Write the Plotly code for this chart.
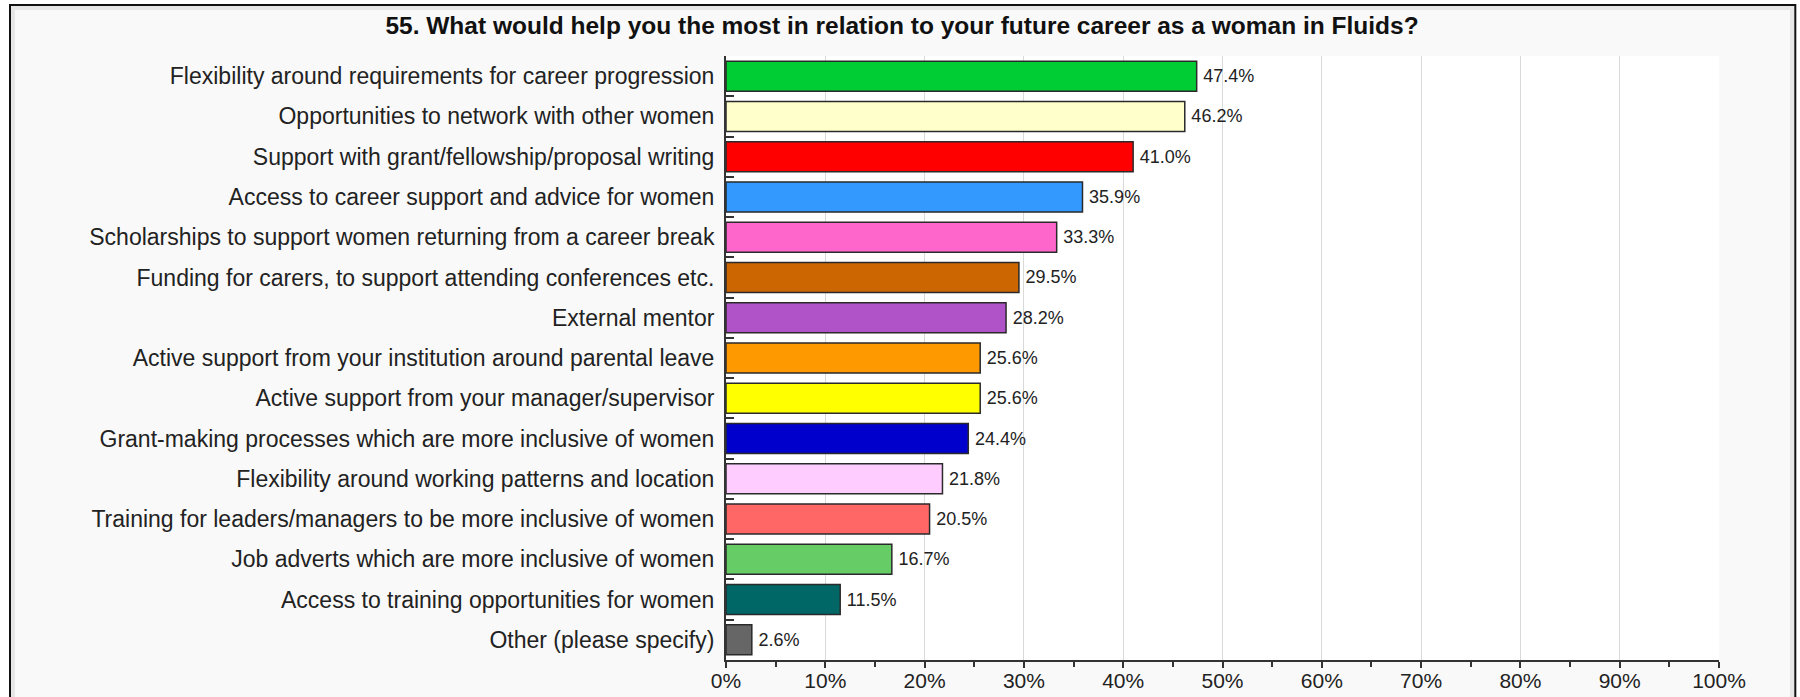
import plotly.graph_objects as go

categories = [
    "Flexibility around requirements for career progression",
    "Opportunities to network with other women",
    "Support with grant/fellowship/proposal writing",
    "Access to career support and advice for women",
    "Scholarships to support women returning from a career break",
    "Funding for carers, to support attending conferences etc.",
    "External mentor",
    "Active support from your institution around parental leave",
    "Active support from your manager/supervisor",
    "Grant-making processes which are more inclusive of women",
    "Flexibility around working patterns and location",
    "Training for leaders/managers to be more inclusive of women",
    "Job adverts which are more inclusive of women",
    "Access to training opportunities for women",
    "Other (please specify)",
]
values = [47.4, 46.2, 41.0, 35.9, 33.3, 29.5, 28.2, 25.6, 25.6, 24.4, 21.8, 20.5, 16.7, 11.5, 2.6]
colors = [
    "#00cc33", "#ffffcc", "#ff0000", "#3399ff", "#ff66cc", "#cc6600", "#b052c8",
    "#ff9900", "#ffff00", "#0000cc", "#ffccff", "#ff6666", "#66cc66", "#006666", "#666666",
]
tick_vals = list(range(0, 101, 10))
tick_text = [f"{v}%" for v in tick_vals]
title_text = "55. What would help you the most in relation to your future career as a woman in Fluids?"

W, H = 1800, 697
ML, MR, MT, MB = 726, 81, 56, 37
PW = W - ML - MR
PH = H - MT - MB

def px(x):
    return (x - ML) / PW

def py(y):
    return (H - MB - y) / PH

FONT = "Liberation Sans, Arial, sans-serif"

fig = go.Figure(go.Bar(
    x=values,
    y=categories,
    orientation="h",
    marker=dict(color=colors, line=dict(color="#2a2a2a", width=1.5)),
    text=[f"\u2009{v:.1f}%" for v in values],
    textposition="outside",
    textfont=dict(family=FONT, size=18, color="#222222"),
    cliponaxis=False,
    hoverinfo="skip",
))

shapes = [
    # white strips outside the frame
    dict(type="rect", xref="paper", yref="paper", x0=px(0), x1=px(9), y0=py(0), y1=py(H), fillcolor="white", line=dict(width=0), layer="below"),
    dict(type="rect", xref="paper", yref="paper", x0=px(0), x1=px(W), y0=py(0), y1=py(4), fillcolor="white", line=dict(width=0), layer="below"),
    dict(type="rect", xref="paper", yref="paper", x0=px(1796.5), x1=px(W), y0=py(0), y1=py(H), fillcolor="white", line=dict(width=0), layer="below"),
    # inner light gray band
    dict(type="rect", xref="paper", yref="paper", x0=px(13), x1=px(1792), y0=py(8), y1=py(H + 10), fillcolor="rgba(0,0,0,0)", line=dict(color="#e6e6e6", width=4), layer="below"),
    # plot area white
    dict(type="rect", xref="paper", yref="paper", x0=0, x1=1, y0=0, y1=1, fillcolor="white", line=dict(width=0), layer="below"),
    # black frame
    dict(type="rect", xref="paper", yref="paper", x0=px(10), x1=px(1795.3), y0=py(5), y1=py(H + 10), fillcolor="rgba(0,0,0,0)", line=dict(color="#111111", width=2), layer="above"),
]

fig.update_layout(
    width=W, height=H,
    margin=dict(l=ML, r=MR, t=MT, b=MB, autoexpand=False),
    paper_bgcolor="#f9f9f9",
    plot_bgcolor="white",
    showlegend=False,
    bargap=0.255,
    font=dict(family=FONT, color="#222222"),
    title=dict(
        text=title_text,
        xanchor="center", xref="paper",
        y=1 - 25 / H, yanchor="middle", yref="container",
        font=dict(family=FONT, size=24.5, color="#111111", weight="bold"),
    ),
    shapes=shapes,
)
fig.layout.title.x = px(902)

fig.update_xaxes(
    range=[0, 100],
    tickvals=tick_vals, ticktext=tick_text,
    showgrid=True, gridcolor="#d9d9d9", gridwidth=1,
    showline=True, linecolor="#333333", linewidth=2,
    ticks="outside", ticklen=6, tickwidth=1.5, tickcolor="#333333",
    minor=dict(dtick=5, ticks="outside", ticklen=5, tickwidth=1.5, tickcolor="#333333", showgrid=False),
    tickfont=dict(family=FONT, size=21, color="#222222"),
    ticklabelstandoff=-5,
    zeroline=False,
    fixedrange=True,
)
fig.update_yaxes(
    categoryorder="array", categoryarray=categories,
    autorange="reversed",
    showline=True, linecolor="#333333", linewidth=2,
    ticks="inside", tickson="boundaries", ticklen=8, tickwidth=1.5, tickcolor="#333333",
    tickfont=dict(family=FONT, size=23, color="#222222"),
    ticklabelstandoff=5,
    showgrid=False,
    fixedrange=True,
)

fig.write_html("out.html")
